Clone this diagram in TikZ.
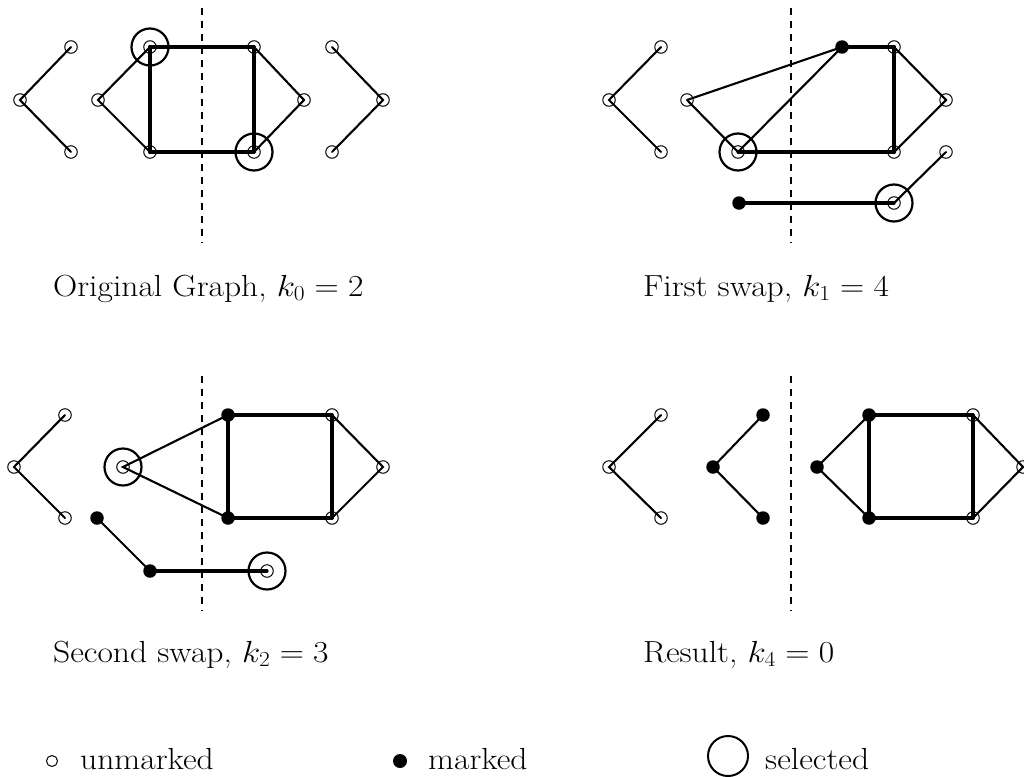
\RequirePackage{fix-cm}
\documentclass[tikz,border=0pt]{standalone}
\usepackage{graphicx}
\newcommand{\captxt}[1]{\scalebox{1.1}[1]{#1}}
\begin{document}
\begin{tikzpicture}[x=1pt,y=-1pt,
  um/.style={circle,draw,line width=1pt,minimum size=12.5pt,inner sep=0pt},
  mk/.style={circle,fill=black,minimum size=13.5pt,inner sep=0pt},
  selring/.style={circle,draw,line width=2.2pt,minimum size=37pt,inner sep=0pt},
  thin edge/.style={line width=2.1pt,line cap=round},
  med edge/.style={line width=3.2pt,line cap=round},
  thick edge/.style={line width=4.3pt,line cap=round},
  cut/.style={line width=2.6pt,dash pattern=on 7pt off 6pt},
  cap text/.style={anchor=base west,inner sep=0pt,font=\fontsize{30.5}{36}\selectfont}
]
\useasboundingbox (0,0) rectangle (1024,776);

% ---------------- Panel 1 ----------------
\coordinate (cut1t) at (202,8);
\coordinate (cut1b) at (202,243);
\draw[cut] (cut1t) -- (cut1b);
\node[um] (a1) at (71,47) {};
\node[um] (a2) at (20,100) {};
\node[um] (a3) at (71,152) {};
\node[um] (b1) at (98,100) {};
\node[um] (b2) at (150,47) {};
\node[um] (b3) at (150,152) {};
\node[um] (b4) at (254,47) {};
\node[um] (b5) at (304,100) {};
\node[um] (b6) at (254,152) {};
\node[um] (c1) at (332,47) {};
\node[um] (c2) at (383,100) {};
\node[um] (c3) at (332,152) {};
\node[selring] (b2s) at (b2) {};
\node[selring] (b6s) at (b6) {};
\draw[thin edge] (a1.center) -- (a2.center) -- (a3.center);
\draw[thin edge] (b2.center) -- (b1.center) -- (b3.center);
\draw[med edge] (b2.center) -- (b4.center);
\draw[thick edge] (b2.center) -- (b3.center);
\draw[med edge] (b3.center) -- (b6.center);
\draw[med edge] (b4.center) -- (b6.center);
\draw[thin edge] (b4.center) -- (b5.center) -- (b6.center);
\draw[thin edge] (c1.center) -- (c2.center) -- (c3.center);
\node[cap text] (cap1) at (53,296) {\captxt{Original Graph, $k_0 = 2$}};

% ---------------- Panel 2 ----------------
\coordinate (cut2t) at (791,8);
\coordinate (cut2b) at (791,243);
\draw[cut] (cut2t) -- (cut2b);
\node[um] (d1) at (661,47) {};
\node[um] (d2) at (609,100) {};
\node[um] (d3) at (661,152) {};
\node[um] (pA) at (687,100) {};
\node[um] (pB) at (738,152) {};
\node[mk] (pC) at (842,47) {};
\node[um] (pD) at (894,47) {};
\node[um] (pE) at (946,100) {};
\node[um] (pF) at (894,152) {};
\node[um] (pG) at (946,152) {};
\node[um] (pH) at (894,203) {};
\node[mk] (pI) at (739,203) {};
\node[selring] (pBs) at (pB) {};
\node[selring] (pHs) at (pH) {};
\draw[thin edge] (d1.center) -- (d2.center) -- (d3.center);
\draw[thin edge] (pA.center) -- (pC.center);
\draw[thin edge] (pA.center) -- (pB.center);
\draw[thin edge] (pB.center) -- (pC.center);
\draw[med edge] (pC.center) -- (pD.center);
\draw[thick edge] (pD.center) -- (pF.center);
\draw[thin edge] (pD.center) -- (pE.center) -- (pF.center);
\draw[med edge] (pB.center) -- (pF.center);
\draw[med edge] (pI.center) -- (pH.center);
\draw[thin edge] (pH.center) -- (pG.center);
\node[cap text] (cap2) at (643,296) {\captxt{First swap, $k_1 = 4$}};

% ---------------- Panel 3 ----------------
\coordinate (cut3t) at (202,376);
\coordinate (cut3b) at (202,611);
\draw[cut] (cut3t) -- (cut3b);
\node[um] (e1) at (65,415) {};
\node[um] (e2) at (14,467) {};
\node[um] (e3) at (65,518) {};
\node[um] (qS) at (123,467) {};
\node[mk] (qP) at (228,415) {};
\node[mk] (qQ) at (228,518) {};
\node[um] (qR1) at (332,415) {};
\node[um] (qR2) at (383,467) {};
\node[um] (qR3) at (332,518) {};
\node[mk] (qM1) at (97,518) {};
\node[mk] (qM2) at (150,571) {};
\node[um] (qT) at (267,571) {};
\node[selring] (qSs) at (qS) {};
\node[selring] (qTs) at (qT) {};
\draw[thin edge] (e1.center) -- (e2.center) -- (e3.center);
\draw[thin edge] (qP.center) -- (qS.center) -- (qQ.center);
\draw[thick edge] (qP.center) -- (qQ.center);
\draw[med edge] (qP.center) -- (qR1.center);
\draw[med edge] (qQ.center) -- (qR3.center);
\draw[med edge] (qR1.center) -- (qR3.center);
\draw[thin edge] (qR1.center) -- (qR2.center) -- (qR3.center);
\draw[thin edge] (qM1.center) -- (qM2.center);
\draw[med edge] (qM2.center) -- (qT.center);
\node[cap text] (cap3) at (53,662) {\captxt{Second swap, $k_2 = 3$}};

% ---------------- Panel 4 ----------------
\coordinate (cut4t) at (791,376);
\coordinate (cut4b) at (791,611);
\draw[cut] (cut4t) -- (cut4b);
\node[um] (f1) at (661,415) {};
\node[um] (f2) at (609,467) {};
\node[um] (f3) at (661,518) {};
\node[mk] (g1) at (763,415) {};
\node[mk] (g2) at (713,467) {};
\node[mk] (g3) at (763,518) {};
\node[mk] (h1) at (817,467) {};
\node[mk] (h2) at (869,415) {};
\node[mk] (h3) at (869,518) {};
\node[um] (h4) at (973,415) {};
\node[um] (h5) at (973,518) {};
\node[um] (h6) at (1023,467) {};
\draw[thin edge] (f1.center) -- (f2.center) -- (f3.center);
\draw[thin edge] (g1.center) -- (g2.center) -- (g3.center);
\draw[thin edge] (h2.center) -- (h1.center) -- (h3.center);
\draw[thick edge] (h2.center) -- (h3.center);
\draw[med edge] (h2.center) -- (h4.center);
\draw[med edge] (h3.center) -- (h5.center);
\draw[med edge] (h4.center) -- (h5.center);
\draw[thin edge] (h4.center) -- (h6.center) -- (h5.center);
\node[cap text] (cap4) at (643,662) {\captxt{Result, $k_4 = 0$}};

% ---------------- Legend ----------------
\node[circle,draw,line width=1pt,minimum size=11pt,inner sep=0pt] (lu) at (52,761) {};
\node[cap text] (lut) at (80,769) {\captxt{unmarked}};
\node[circle,fill=black,minimum size=14pt,inner sep=0pt] (lm) at (400,761) {};
\node[cap text] (lmt) at (428,769) {\captxt{marked}};
\node[circle,draw,line width=2pt,minimum size=40pt,inner sep=0pt] (ls) at (728,756) {};
\node[cap text] (lst) at (765,769) {\captxt{selected}};
\end{tikzpicture}
\end{document}
